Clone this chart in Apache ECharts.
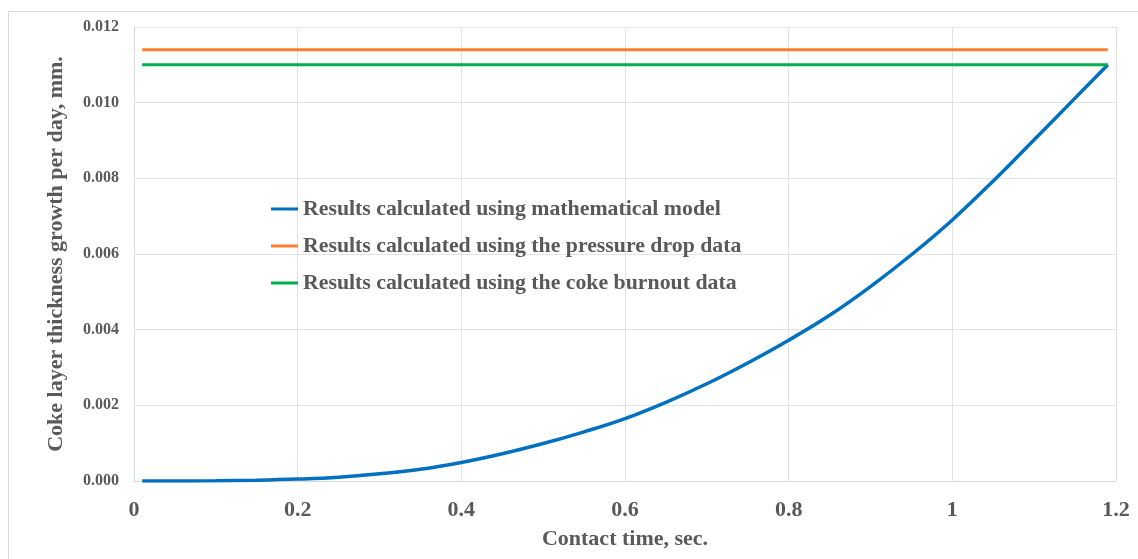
<!DOCTYPE html>
<html>
<head>
<meta charset="utf-8">
<script src="https://cdn.jsdelivr.net/npm/echarts@6/dist/echarts.min.js"></script>
<style>html,body{margin:0;padding:0;background:#fff;}#c{width:1138px;height:559px;}</style>
</head>
<body>
<div id="c"></div>
<script>
var seriesNames = [
  "Results calculated using mathematical model",
  "Results calculated using the pressure drop data",
  "Results calculated using the coke burnout data"
];
var modelTime = [0.01,0.05,0.1,0.15,0.2,0.25,0.3,0.35,0.4,0.45,0.5,0.55,0.6,0.65,0.7,0.75,0.8,0.85,0.9,0.95,1.0,1.05,1.1,1.15,1.19];
var modelGrowth = [0,0.000001,0.000006,0.00002,0.00005,0.0001,0.00019,0.00031,0.00049,0.00072,0.00099,0.0013,0.00165,0.00208,0.00257,0.00312,0.00372,0.00438,0.00514,0.00598,0.0069,0.00793,0.00902,0.01012,0.011];
var pressureTime = [0.01,1.19];
var pressureGrowth = [0.0114,0.0114];
var burnoutTime = [0.01,1.19];
var burnoutGrowth = [0.011,0.011];

function pairs(xs, ys){ return xs.map(function(x,i){ return [x, ys[i]]; }); }

var font = "'Liberation Serif','Times New Roman',serif";
var textColor = '#595959';
var chart = echarts.init(document.getElementById('c'));
chart.setOption({
  animation: false,
  backgroundColor: '#fff',
  graphic: [{
    type: 'rect', shape: {x: 8.5, y: 11.5, width: 1140, height: 560},
    style: {fill: 'none', stroke: '#d9d9d9', lineWidth: 1}, silent: true, z: -1
  }],
  grid: {left: 134, right: 22, top: 27, bottom: 78},
  legend: {
    orient: 'vertical', left: 266, top: 193, itemGap: 15,
    icon: 'rect', itemWidth: 27, itemHeight: 3,
    textStyle: {fontFamily: font, fontWeight: 'bold', fontSize: 21.8, color: textColor},
    data: seriesNames
  },
  xAxis: {
    type: 'value', min: 0, max: 1.2, interval: 0.2,
    name: 'Contact time, sec.', nameLocation: 'middle', nameGap: 47,
    nameTextStyle: {fontFamily: font, fontWeight: 'bold', fontSize: 22, color: textColor},
    axisLine: {show: true, lineStyle: {color: '#d9d9d9'}},
    axisTick: {show: false},
    splitLine: {show: true, lineStyle: {color: '#e3e3e3'}},
    axisLabel: {fontFamily: font, fontWeight: 'bold', fontSize: 22, color: textColor, margin: 18,
      formatter: function(v){ return String(Math.round(v*10)/10); }}
  },
  yAxis: {
    type: 'value', min: 0, max: 0.012, interval: 0.002,
    name: 'Coke layer thickness growth per day, mm.', nameLocation: 'middle', nameGap: 67,
    nameTextStyle: {fontFamily: font, fontWeight: 'bold', fontSize: 22, color: textColor},
    axisLine: {show: true, lineStyle: {color: '#d9d9d9'}},
    axisTick: {show: false},
    splitLine: {show: true, lineStyle: {color: '#e3e3e3'}},
    axisLabel: {fontFamily: font, fontWeight: 'bold', fontSize: 16, color: textColor, margin: 15,
      formatter: function(v){ return v.toFixed(3); }}
  },
  series: [
    {name: seriesNames[0], type: 'line', smooth: 0.4, showSymbol: false, data: pairs(modelTime, modelGrowth),
      lineStyle: {color: '#0070C0', width: 3.5}, itemStyle: {color: '#0070C0'}, z: 3},
    {name: seriesNames[1], type: 'line', showSymbol: false, data: pairs(pressureTime, pressureGrowth),
      lineStyle: {color: '#FF7F2A', width: 3}, itemStyle: {color: '#FF7F2A'}},
    {name: seriesNames[2], type: 'line', showSymbol: false, data: pairs(burnoutTime, burnoutGrowth),
      lineStyle: {color: '#00B050', width: 3}, itemStyle: {color: '#00B050'}}
  ]
});
</script>
</body>
</html>
